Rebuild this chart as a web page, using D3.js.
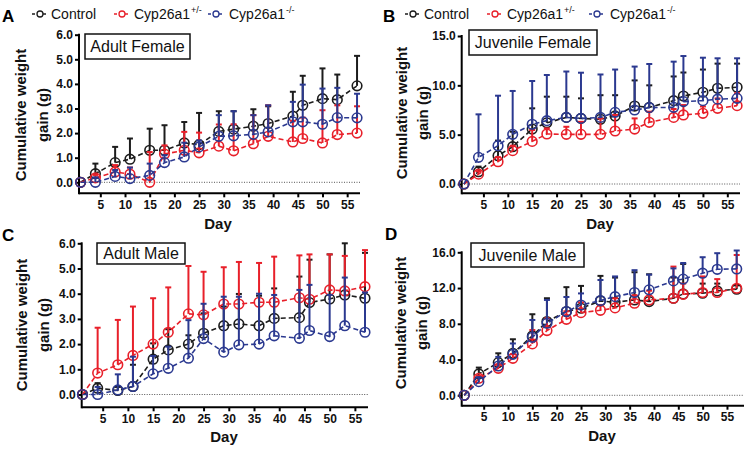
<!DOCTYPE html>
<html><head><meta charset="utf-8">
<script src="https://cdn.jsdelivr.net/npm/d3@7"></script>
<style>
html,body{margin:0;padding:0;background:#fff;}
svg{display:block;font-family:"Liberation Sans",Arial,Helvetica,sans-serif;}
</style></head>
<body>
<svg id="chart" width="745" height="450"></svg>
<script>
// ---------- DATA ----------
const days = [1,4,8,11,15,18,22,25,29,32,36,39,44,46,50,53,57];
const xTicks = [5,10,15,20,25,30,35,40,45,50,55];
const seriesNames = ["Control","Cyp26a1","Cyp26a1"];
const seriesSup = ["","+/-","-/-"];
const panelLetters = ["A","B","C","D"];
const panelTitles = ["Adult Female","Juvenile Female","Adult Male","Juvenile Male"];
const yTicksA = [0,1,2,3,4,5,6];
const yTicksB = [0,5,10,15];
const yTicksC = [0,1,2,3,4,5,6];
const yTicksD = [0,4,8,12,16];

// Adult Female
const aCtrl    = [0,0.35,0.8,0.94,1.3,1.3,1.6,1.53,2.07,2.16,2.28,2.39,2.69,3.13,3.4,3.36,3.92];
const aCtrlErr = [0,0.41,0.64,0.84,0.88,1.02,0.85,1.29,0.82,0.73,0.69,0.70,0.99,1.20,1.23,1.02,1.22];
const aHet     = [0,0.18,0.42,0.33,0.0,1.15,1.3,1.2,1.47,1.28,1.57,1.87,1.64,1.78,1.6,1.94,2.0];
const aHetErr  = [0,0.12,0.28,0.27,1.23,0.35,0.75,0.82,0.88,1.08,1.16,1.26,0.86,0.85,1.33,1.19,1.09];
const aKo      = [0,0.0,0.24,0.15,0.28,0.8,1.03,1.44,1.87,1.89,1.95,2.05,2.46,2.46,2.36,2.63,2.62];
const aKoErr   = [0,0.2,0.26,0.45,0.48,0.3,0.58,0.26,0.86,1.0,0.78,1.08,0.81,1.51,1.45,1.21,0.98];
// Juvenile Female
const bCtrl    = [0,1.25,2.87,3.78,5.57,6.2,6.75,6.65,6.55,6.9,7.9,7.77,8.45,8.92,9.3,9.7,9.8];
const bCtrlErr = [0,0.51,1.53,1.52,2.1,2.65,2.1,2.03,2.45,2.1,2.6,2.23,2.45,2.38,2.3,2.5,2.4];
const bHet     = [0,1.0,2.26,3.38,4.32,5.07,5.03,5.03,5.03,5.37,5.57,6.25,6.75,7.0,7.16,7.67,7.94];
const bHetErr  = [0,0.3,0.45,0.5,1.15,0.57,0.77,1.27,1.62,1.63,1.08,1.08,0.85,1.0,0.7,1.0,1.26];
const bKo      = [0,2.7,3.88,5.03,6.05,6.42,6.75,6.65,6.75,7.26,7.5,7.74,7.77,8.35,8.45,8.6,8.68];
const bKoErr   = [0,4.36,5.07,4.4,4.39,4.63,4.65,4.63,4.35,4.34,4.4,4.42,4.63,4.62,4.35,4.14,4.06];
// Adult Male
const cCtrl    = [0,0.25,0.16,0.32,1.4,1.77,2.0,2.43,2.73,2.8,2.73,3.02,3.05,3.65,3.79,3.95,3.82];
const cCtrlErr = [0,0.2,0.14,0.86,0.63,0.82,0.35,0.79,0.76,1.19,1.19,1.19,1.63,1.7,1.77,2.05,1.8];
const cHet     = [0,0.85,1.18,1.55,2.0,2.47,3.2,3.16,3.59,3.59,3.66,3.66,3.84,3.78,4.15,4.11,4.28];
const cHetErr  = [0,1.8,1.78,1.94,1.82,1.78,1.9,1.71,1.46,1.67,1.56,1.81,1.68,1.78,1.41,1.39,1.45];
const cKo      = [0,0.0,0.18,0.32,0.82,1.04,1.44,2.22,1.68,1.97,2.0,2.33,2.23,2.54,2.3,2.73,2.47];
const cKoErr   = [0,0.3,0.62,1.18,0.71,0.86,1.51,1.38,2.2,1.91,2.0,1.62,1.92,1.81,1.65,1.91,1.58];
// Juvenile Male
const dCtrl    = [0,2.39,3.66,4.7,6.64,8.25,9.37,9.74,10.56,10.41,10.67,10.49,10.86,11.34,11.42,11.68,11.87];
const dCtrlErr = [0,0.71,1.04,1.57,2.43,2.61,2.73,2.5,2.8,2.76,3.1,3.05,2.31,3.36,1.08,0.82,0.43];
const dHet     = [0,1.9,3.02,4.14,5.75,7.24,8.5,9.25,9.51,9.78,10.3,10.67,10.86,11.3,11.5,11.5,11.98];
const dHetErr  = [0,0.3,0.38,0.46,1.55,1.36,0.9,1.15,0.59,1.08,0.9,1.03,3.54,1.2,1.8,1.5,3.72];
const dKo      = [0,1.53,3.28,4.59,6.49,8.06,9.37,10.1,10.6,11.04,11.5,11.8,12.8,13.0,13.66,14.1,14.14];
const dKoErr   = [0,0.47,1.02,1.21,1.94,2.61,1.63,1.3,2.3,2.26,2.5,1.7,1.4,1.8,1.79,1.8,2.06];

// ---------- STYLE / LAYOUT ----------
const colors = ["#1c1c1c","#e8202a","#2b3990"];
const layout = [
  {xd:[0.68,57.6], xr:[79,360],   yr:[182.3,34.7], yMax:6,  ticks:yTicksA, axisY:193.3, box:[85,34,105,25],  t1:20,  t2:42,  tc:115, dayX:218, dayY:229, letter:[2,22]},
  {xd:[0.55,57.6], xr:[461.7,740],yr:[184,36],     yMax:15, ticks:yTicksB, axisY:193.3, box:[469,30,128,25], t1:401, t2:422, tc:113, dayX:600, dayY:229, letter:[383,22]},
  {xd:[0.84,57.6], xr:[81.7,368], yr:[394.5,243.3],yMax:6,  ticks:yTicksC, axisY:407.3, box:[97,243,88,21],  t1:21,  t2:43,  tc:325, dayX:224, dayY:442, letter:[2,241]},
  {xd:[0.48,58.5], xr:[461.7,744],yr:[395.3,252.3],yMax:16, ticks:yTicksD, axisY:405.7, box:[471,243,113,24],t1:400, t2:421, tc:323, dayX:602, dayY:441, letter:[385,240]}
];
const panelData = [
  [[aCtrl,aCtrlErr],[aHet,aHetErr],[aKo,aKoErr]],
  [[bCtrl,bCtrlErr],[bHet,bHetErr],[bKo,bKoErr]],
  [[cCtrl,cCtrlErr],[cHet,cHetErr],[cKo,cKoErr]],
  [[dCtrl,dCtrlErr],[dHet,dHetErr],[dKo,dKoErr]]
];

const svg = d3.select("#chart");

panelData.forEach((series, pi) => {
  const L = layout[pi];
  const x = d3.scaleLinear().domain(L.xd).range(L.xr);
  const y = d3.scaleLinear().domain([0, L.yMax]).range(L.yr);
  const g = svg.append("g");

  g.append("line").attr("x1", L.xr[0]).attr("x2", L.xr[1])
    .attr("y1", y(0)).attr("y2", y(0))
    .attr("stroke", "#555").attr("stroke-width", 1).attr("stroke-dasharray", "1,1.5");

  const ya = g.append("g").attr("transform", `translate(${L.xr[0]},0)`)
    .call(d3.axisLeft(y).tickValues(L.ticks).tickFormat(d3.format(".1f")).tickSize(4).tickPadding(2));
  ya.select(".domain").remove();
  ya.selectAll(".tick line").attr("stroke", "#000").attr("stroke-width", 2);
  ya.selectAll(".tick text").attr("font-size", 12).attr("font-weight", "bold").attr("fill", "#111")
    .attr("font-family", "'Liberation Sans',Arial,sans-serif");
  g.append("line").attr("x1", L.xr[0]).attr("x2", L.xr[0]).attr("y1", L.yr[1] - 1).attr("y2", L.axisY + 1)
    .attr("stroke", "#000").attr("stroke-width", 2);

  const xa = g.append("g").attr("transform", `translate(0,${L.axisY})`)
    .call(d3.axisBottom(x).tickValues(xTicks).tickSize(4).tickPadding(3));
  xa.select(".domain").remove();
  xa.selectAll(".tick line").attr("stroke", "#000").attr("stroke-width", 2);
  xa.selectAll(".tick text").attr("font-size", 12).attr("font-weight", "bold").attr("fill", "#111")
    .attr("font-family", "'Liberation Sans',Arial,sans-serif");
  g.append("line").attr("x1", L.xr[0]).attr("x2", L.xr[1]).attr("y1", L.axisY).attr("y2", L.axisY)
    .attr("stroke", "#000").attr("stroke-width", 2);

  g.append("text").attr("transform", `translate(${L.t1},${L.tc}) rotate(-90)`)
    .attr("text-anchor", "middle").attr("dominant-baseline", "central")
    .attr("font-size", 15).attr("font-weight", "bold").attr("fill", "#111").text("Cumulative weight");
  g.append("text").attr("transform", `translate(${L.t2},${L.tc}) rotate(-90)`)
    .attr("text-anchor", "middle").attr("dominant-baseline", "central")
    .attr("font-size", 15).attr("font-weight", "bold").attr("fill", "#111").text("gain (g)");
  g.append("text").attr("x", L.dayX).attr("y", L.dayY).attr("text-anchor", "middle")
    .attr("font-size", 15).attr("font-weight", "bold").attr("fill", "#111").text("Day");

  g.append("rect").attr("x", L.box[0]).attr("y", L.box[1]).attr("width", L.box[2]).attr("height", L.box[3])
    .attr("fill", "#fff").attr("stroke", "#111").attr("stroke-width", 1.5);
  g.append("text").attr("x", L.box[0] + L.box[2] / 2).attr("y", L.box[1] + L.box[3] / 2)
    .attr("text-anchor", "middle").attr("dominant-baseline", "central")
    .attr("font-size", 16).attr("fill", "#111").text(panelTitles[pi]);

  svg.append("text").attr("x", L.letter[0]).attr("y", L.letter[1])
    .attr("font-size", 17).attr("font-weight", "bold").attr("fill", "#000").text(panelLetters[pi]);

  const line = d3.line().x((d, i) => x(days[i])).y(d => y(d));
  series.forEach(([vals, errs], si) => {
    const c = colors[si];
    const sg = g.append("g");
    vals.forEach((v, i) => {
      if (errs[i] <= 0) return;
      const cx = x(days[i]);
      sg.append("line").attr("x1", cx).attr("x2", cx).attr("y1", y(v)).attr("y2", y(v + errs[i]))
        .attr("stroke", c).attr("stroke-width", 2);
      sg.append("line").attr("x1", cx - 3).attr("x2", cx + 3).attr("y1", y(v + errs[i])).attr("y2", y(v + errs[i]))
        .attr("stroke", c).attr("stroke-width", 2);
    });
    sg.append("path").datum(vals).attr("d", line).attr("fill", "none")
      .attr("stroke", c).attr("stroke-width", 1.6).attr("stroke-dasharray", "5,3");
    sg.selectAll("circle").data(vals).enter().append("circle")
      .attr("cx", (d, i) => x(days[i])).attr("cy", d => y(d)).attr("r", 4.8)
      .attr("fill", "none").attr("stroke", c).attr("stroke-width", 1.6);
  });
});

// legends
const legendRows = [
  {icons:[40,122,216], texts:[51,134,229]},
  {icons:[413,495,597], texts:[424,507,610]}
];
legendRows.forEach(row => {
  seriesNames.forEach((name, si) => {
    const c = colors[si];
    const ix = row.icons[si], iy = 14;
    svg.append("line").attr("x1", ix - 8).attr("x2", ix + 8).attr("y1", iy).attr("y2", iy)
      .attr("stroke", c).attr("stroke-width", 1.4).attr("stroke-dasharray", "3,2.5");
    svg.append("circle").attr("cx", ix).attr("cy", iy).attr("r", 3).attr("fill", "#fff")
      .attr("stroke", c).attr("stroke-width", 1.3);
    const t = svg.append("text").attr("x", row.texts[si]).attr("y", 19)
      .attr("font-size", 14).attr("fill", "#111");
    t.append("tspan").text(name);
    if (seriesSup[si]) {
      t.append("tspan").attr("font-size", 9).attr("dy", -6).attr("dx", 1).text(seriesSup[si]);
    }
  });
});
</script>
</body></html>
